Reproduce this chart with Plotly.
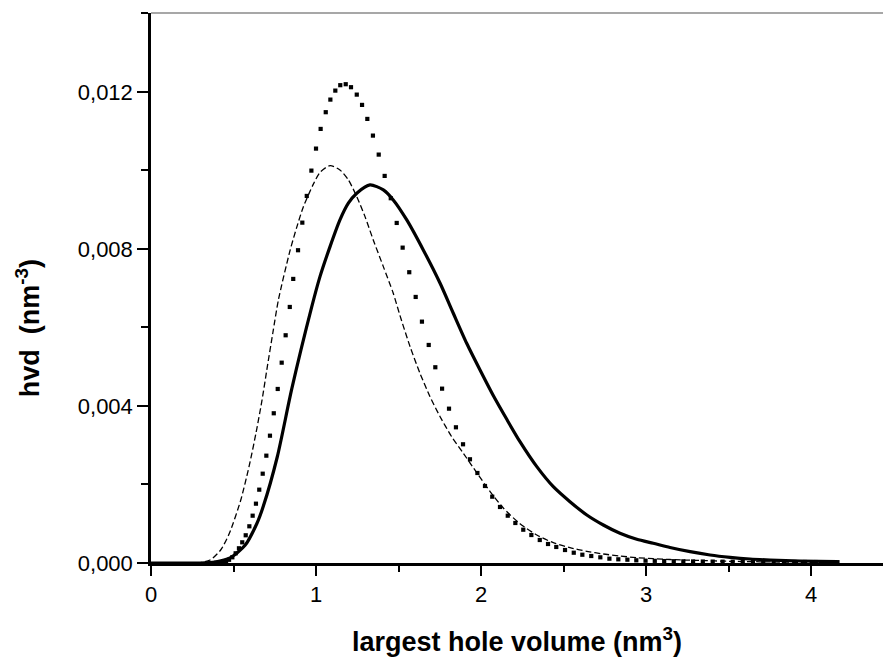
import plotly.graph_objects as go

# ---- data ----
x_solid = [0.0, 0.297, 0.388, 0.479, 0.570, 0.641, 0.681, 0.765, 0.853, 0.974, 1.024, 1.085,
           1.145, 1.196, 1.247, 1.327, 1.408, 1.468, 1.550, 1.650, 1.752, 1.832, 1.913, 1.994,
           2.075, 2.156, 2.236, 2.338, 2.438, 2.539, 2.641, 2.741, 2.842, 2.944, 3.044, 3.145,
           3.267, 3.388, 3.509, 3.630, 3.752, 3.933, 4.158]
y_solid = [0.0, 0.0, 0.000025, 0.000130, 0.000450, 0.001000, 0.001450, 0.002700, 0.004433,
           0.006522, 0.007294, 0.008059, 0.008739, 0.009165, 0.009420, 0.009631, 0.009503,
           0.009249, 0.008739, 0.007975, 0.007126, 0.006362, 0.005598, 0.004917, 0.004260,
           0.003660, 0.003091, 0.002454, 0.001944, 0.001562, 0.001223, 0.000968, 0.000757,
           0.000604, 0.000502, 0.000395, 0.000288, 0.000204, 0.000145, 0.000102, 0.000076,
           0.000051, 0.000038]

x_dash = [0.0, 0.277, 0.358, 0.422, 0.475, 0.544, 0.594, 0.636, 0.673, 0.705, 0.738, 0.772,
          0.842, 0.883, 0.923, 0.984, 1.024, 1.085, 1.145, 1.196, 1.247, 1.297, 1.347, 1.408,
          1.468, 1.509, 1.570, 1.630, 1.691, 1.752, 1.822, 1.893, 1.974, 2.055, 2.135, 2.236,
          2.338, 2.438, 2.539, 2.641, 2.741, 2.842, 2.944, 3.044, 3.145, 3.327, 3.509, 3.691,
          3.933, 4.158]
y_dash = [0.0, 0.0, 0.000076, 0.000331, 0.000757, 0.001605, 0.002454, 0.003305, 0.004153,
          0.005001, 0.005852, 0.006701, 0.007950, 0.008550, 0.009070, 0.009650, 0.009950,
          0.010123, 0.010013, 0.009759, 0.009333, 0.008823, 0.008229, 0.007549, 0.006872,
          0.006300, 0.005511, 0.004833, 0.004237, 0.003727, 0.003218, 0.002795, 0.002300,
          0.001820, 0.001400, 0.001000, 0.000713, 0.000517, 0.000390, 0.000298, 0.000229,
          0.000178, 0.000135, 0.000110, 0.000089, 0.000064, 0.000043, 0.000031, 0.000018,
          0.000010]

x_dots = [0.394, 0.412, 0.433, 0.455, 0.473, 0.493, 0.513, 0.533, 0.553, 0.574, 0.596, 0.616,
          0.636, 0.656, 0.677, 0.699, 0.721, 0.744, 0.768, 0.792, 0.816, 0.841, 0.862, 0.891,
          0.917, 0.944, 0.972, 1.000, 1.028, 1.059, 1.087, 1.117, 1.147, 1.180, 1.212, 1.247,
          1.279, 1.311, 1.345, 1.380, 1.416, 1.453, 1.489, 1.525, 1.565, 1.604, 1.642, 1.683,
          1.723, 1.764, 1.806, 1.848, 1.891, 1.933, 1.978, 2.024, 2.068, 2.115, 2.162, 2.208,
          2.256, 2.305, 2.356, 2.406, 2.456, 2.509, 2.562, 2.614, 2.668, 2.723, 2.778, 2.832,
          2.887, 2.941, 2.997, 3.053, 3.110, 3.168, 3.226, 3.285, 3.344, 3.404, 3.464, 3.525,
          3.586, 3.648, 3.710, 3.773, 3.836, 3.900, 3.964, 4.029, 4.094, 4.160]
y_dots = [0.000005, 0.000013, 0.000018, 0.000038, 0.000082, 0.000145, 0.000247, 0.000375,
          0.000527, 0.000706, 0.000935, 0.001205, 0.001511, 0.001868, 0.002275, 0.002734,
          0.003243, 0.003814, 0.004433, 0.005103, 0.005801, 0.006522, 0.007236, 0.007967,
          0.008670, 0.009350, 0.009995, 0.010556, 0.011057, 0.011483, 0.011804, 0.012033,
          0.012171, 0.012196, 0.012120, 0.011931, 0.011669, 0.011312, 0.010887, 0.010403,
          0.009860, 0.009292, 0.008662, 0.008033, 0.007407, 0.006777, 0.006148, 0.005554,
          0.004986, 0.004441, 0.003931, 0.003457, 0.003024, 0.002642, 0.002293, 0.001962,
          0.001689, 0.001427, 0.001205, 0.001019, 0.000848, 0.000713, 0.000586, 0.000484,
          0.000408, 0.000331, 0.000262, 0.000211, 0.000178, 0.000145, 0.000110, 0.000094,
          0.000084, 0.000069, 0.000059, 0.000055, 0.000050, 0.000046, 0.000043, 0.000040,
          0.000038, 0.000036, 0.000034, 0.000032, 0.000031, 0.000030, 0.000029, 0.000028,
          0.000027, 0.000026, 0.000025, 0.000024, 0.000023, 0.000022]

x_ticks = [0, 1, 2, 3, 4]
y_ticks = [0.0, 0.004, 0.008, 0.012]
x_title = "largest hole volume (nm<sup>3</sup>)"
y_title = "hvd\u00a0 (nm<sup>-3</sup>)"

FONT = "Liberation Sans, Arial, sans-serif"

fig = go.Figure()
fig.add_trace(go.Scatter(x=x_solid, y=y_solid, mode="lines",
                         line=dict(color="black", width=3.2, shape="spline", smoothing=0.7),
                         showlegend=False))
fig.add_trace(go.Scatter(x=x_dash, y=y_dash, mode="lines",
                         line=dict(color="black", width=1.3, dash="6px,3px", shape="spline",
                                   smoothing=0.7),
                         showlegend=False))
fig.add_trace(go.Scatter(x=x_dots, y=y_dots, mode="markers",
                         marker=dict(symbol="square", size=4.2, color="black",
                                     line=dict(width=0)),
                         showlegend=False))

fig.update_layout(
    width=883, height=657, autosize=False,
    margin=dict(l=151, r=0, t=13, b=94, pad=0),
    paper_bgcolor="white", plot_bgcolor="white",
    separators=",.",
    font=dict(family=FONT, color="black"),
    xaxis=dict(range=[0, 4.436], tickvals=x_ticks, tickformat="d",
               showline=True, linecolor="black", linewidth=2.5,
               ticks="outside", ticklen=10, tickwidth=2, tickcolor="black",
               minor=dict(dtick=0.5, tick0=0, ticks="outside", ticklen=6, tickwidth=2,
                          tickcolor="black"),
               showgrid=False, zeroline=False,
               tickfont=dict(family=FONT, size=22, color="black")),
    yaxis=dict(range=[0, 0.01401], tickvals=y_ticks, tickformat=".3f",
               showline=True, linecolor="black", linewidth=2.5,
               ticks="outside", ticklen=11, tickwidth=2, tickcolor="black",
               minor=dict(dtick=0.002, tick0=0, ticks="outside", ticklen=7, tickwidth=2,
                          tickcolor="black"),
               showgrid=False, zeroline=False,
               tickfont=dict(family=FONT, size=22, color="black")),
    shapes=[dict(type="line", xref="paper", yref="paper", x0=0, x1=1, y0=1, y1=1,
                 line=dict(color="#8a8a8a", width=1.5))],
    annotations=[
        dict(text="<b>" + x_title + "</b>", xref="paper", yref="paper",
             x=0.5, y=-0.14, xanchor="center", yanchor="middle", showarrow=False,
             font=dict(family=FONT, size=27, color="black")),
        dict(text="<b>" + y_title + "</b>", xref="paper", yref="paper",
             x=-0.168, y=0.427, xanchor="center", yanchor="middle", showarrow=False,
             textangle=-90, font=dict(family=FONT, size=27, color="black")),
    ],
)

fig.write_html("out.html", config={"displayModeBar": False},
               post_script="document.body.style.margin='0';document.body.style.overflow='hidden';")
